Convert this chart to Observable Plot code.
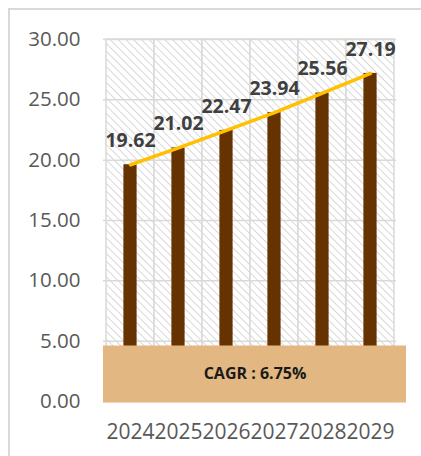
<!DOCTYPE html>
<html>
<head>
<meta charset="utf-8">
<script src="https://cdn.jsdelivr.net/npm/d3@7"></script>
<script src="https://cdn.jsdelivr.net/npm/@observablehq/plot@0.6"></script>
<style>
  html, body { margin: 0; padding: 0; background: #fff; overflow: hidden; }
  #wrap { position: relative; width: 421px; height: 456px; }
  #border { position: absolute; left: 8px; top: 8px; width: 500px; height: 500px; border: 2px solid #d9d9d9; box-sizing: border-box; pointer-events: none; }
  #chart { position: absolute; left: 0; top: 0; }
</style>
</head>
<body>
<div id="wrap"><div id="border"></div><div id="chart"></div></div>
<script>
const years = ["2024", "2025", "2026", "2027", "2028", "2029"];
const values = [19.62, 21.02, 22.47, 23.94, 25.56, 27.19];
const yTicks = [0, 5, 10, 15, 20, 25, 30];
const cagrLabel = "CAGR : 6.75%";
const cagrBand = [0, 4.6];

const data = years.map((year, i) => ({year, value: values[i]}));

const plot = Plot.plot({
  width: 421,
  height: 456,
  marginLeft: 103,
  marginRight: 25,
  marginTop: 39,
  marginBottom: 55,
  style: {fontFamily: "'Open Sans', sans-serif", background: "transparent", overflow: "visible"},
  x: {domain: years, padding: 0, label: null},
  y: {domain: [0, 30], label: null},
  marks: [
    Plot.cell(years, {x: d => d, fill: "url(#hatch)", stroke: "#d9d9d9", strokeWidth: 1.5, inset: 0}),
    Plot.ruleY(yTicks, {stroke: "#d9d9d9", strokeWidth: 1.5}),
    Plot.barY(data, {x: "year", y: "value", fill: "#663300", insetLeft: 17.4, insetRight: 17.4}),
    Plot.rect([cagrBand], {y1: d => d[0], y2: d => d[1], fill: "#E3B781", insetRight: -10, insetBottom: -1.5}),
    Plot.text([cagrLabel], {y: (cagrBand[0] + cagrBand[1]) / 2, text: d => d, dx: 5, fontWeight: "bold", fontSize: 16, fill: "#1a1a1a", fontFamily: "'Open Sans', sans-serif"}),
    Plot.line(data, {x: "year", y: "value", stroke: "#FFC000", strokeWidth: 3.5}),
    Plot.text(data, {x: "year", y: "value", text: d => d.value.toFixed(2), dy: -24, fontWeight: "bold", fontSize: 19.5, fill: "#404040"}),
    Plot.axisY(yTicks, {tickSize: 0, tickPadding: 23, tickFormat: d => d.toFixed(2), fontSize: 20.5, fill: "#595959", label: null}),
    Plot.axisX(years, {tickSize: 0, tickPadding: 23, fontSize: 21, fill: "#595959", label: null})
  ]
});

d3.select(plot).insert("defs", ":first-child").html(
  '<pattern id="hatch" patternUnits="userSpaceOnUse" width="5.5" height="5.5" patternTransform="rotate(-45)">' +
  '<rect width="5.5" height="5.5" fill="#ffffff"/>' +
  '<line x1="0" y1="0" x2="0" y2="5.5" stroke="#cfcfcf" stroke-width="1.6"/></pattern>'
);

document.getElementById("chart").appendChild(plot);
</script>
</body>
</html>
